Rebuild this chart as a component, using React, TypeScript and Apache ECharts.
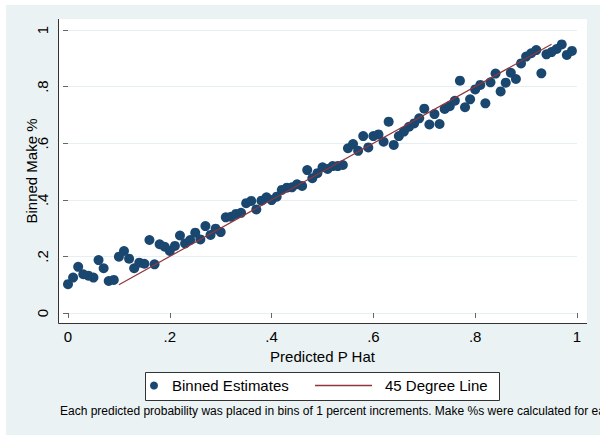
import React, { useEffect, useRef } from 'react';
import * as echarts from 'echarts';

const predictedPHat = [
  0.0, 0.01, 0.02, 0.03, 0.04, 0.05, 0.06, 0.07, 0.08, 0.09,
  0.1, 0.11, 0.12, 0.13, 0.14, 0.15, 0.16, 0.17, 0.18, 0.19,
  0.2, 0.21, 0.22, 0.23, 0.24, 0.25, 0.26, 0.27, 0.28, 0.29,
  0.3, 0.31, 0.32, 0.33, 0.34, 0.35, 0.36, 0.37, 0.38, 0.39,
  0.4, 0.41, 0.42, 0.43, 0.44, 0.45, 0.46, 0.47, 0.48, 0.49,
  0.5, 0.51, 0.52, 0.53, 0.54, 0.55, 0.56, 0.57, 0.58, 0.59,
  0.6, 0.61, 0.62, 0.63, 0.64, 0.65, 0.66, 0.67, 0.68, 0.69,
  0.7, 0.71, 0.72, 0.73, 0.74, 0.75, 0.76, 0.77, 0.78, 0.79,
  0.8, 0.81, 0.82, 0.83, 0.84, 0.85, 0.86, 0.87, 0.88, 0.89,
  0.9, 0.91, 0.92, 0.93, 0.94, 0.95, 0.96, 0.97, 0.98, 0.99,
];

const binnedMakePct = [
  0.102, 0.125, 0.163, 0.137, 0.132, 0.125, 0.187, 0.158, 0.113, 0.117,
  0.199, 0.219, 0.192, 0.158, 0.178, 0.174, 0.258, 0.172, 0.243, 0.234,
  0.219, 0.237, 0.274, 0.246, 0.258, 0.284, 0.26, 0.307, 0.276, 0.298,
  0.286, 0.338, 0.34, 0.35, 0.354, 0.388, 0.396, 0.366, 0.397, 0.409,
  0.399, 0.411, 0.435, 0.443, 0.444, 0.455, 0.449, 0.505, 0.476, 0.494,
  0.515, 0.509, 0.519, 0.519, 0.523, 0.582, 0.597, 0.573, 0.625, 0.585,
  0.625, 0.631, 0.605, 0.676, 0.594, 0.625, 0.641, 0.658, 0.67, 0.688,
  0.722, 0.666, 0.703, 0.668, 0.721, 0.731, 0.75, 0.821, 0.727, 0.755,
  0.79, 0.806, 0.741, 0.815, 0.846, 0.783, 0.814, 0.849, 0.827, 0.882,
  0.906, 0.918, 0.929, 0.847, 0.914, 0.922, 0.933, 0.949, 0.912, 0.926,
];

const degreeLineX = [0.1, 0.95];
const degreeLineY = [0.1, 0.95];

const tickValues = [0, 0.2, 0.4, 0.6, 0.8, 1];
const tickLabels = ['0', '.2', '.4', '.6', '.8', '1'];

const FONT = '"Liberation Sans", Arial, Helvetica, sans-serif';
const NAVY = '#1A476F';
const MAROON = '#90353B';

function fmt(v: number): string {
  const i = tickValues.findIndex((t) => Math.abs(t - v) < 1e-6);
  return i >= 0 ? tickLabels[i] : '';
}

export default function App() {
  const ref = useRef<HTMLDivElement>(null);

  useEffect(() => {
    document.body.style.margin = '0';
    const chart = echarts.init(ref.current!, null, { renderer: 'svg' });
    const scatterData = predictedPHat.map((x, i) => [x, binnedMakePct[i]]);
    const lineData = degreeLineX.map((x, i) => [x, degreeLineY[i]]);

    chart.setOption({
      animation: false,
      textStyle: { fontFamily: FONT },
      grid: { left: 68, top: 30, width: 509, height: 283 },
      xAxis: {
        type: 'value',
        min: 0,
        max: 1,
        interval: 0.2,
        offset: 10,
        axisLine: { show: false },
        axisTick: { show: true, length: 5, lineStyle: { color: '#666', width: 1 } },
        axisLabel: { formatter: fmt, fontSize: 15, color: '#000', margin: 6, fontFamily: FONT },
        splitLine: { show: false },
      },
      yAxis: {
        type: 'value',
        min: 0,
        max: 1,
        interval: 0.2,
        offset: 10,
        axisLine: { show: false },
        axisTick: { show: true, length: 5, lineStyle: { color: '#666', width: 1 } },
        axisLabel: { formatter: fmt, fontSize: 15, color: '#000', margin: 8, rotate: 90, fontFamily: FONT },
        splitLine: { show: true, lineStyle: { color: '#E6EFF1', width: 1 } },
      },
      legend: [
        {
          data: ['Binned Estimates'],
          left: 150,
          top: 378,
          padding: 0,
          icon: 'circle',
          itemWidth: 26,
          itemHeight: 8,
          textStyle: { fontSize: 15, color: '#000', fontFamily: FONT },
        },
        {
          data: [{ name: '45 Degree Line', icon: 'rect' }],
          left: 315,
          top: 378,
          padding: 0,
          itemWidth: 57,
          itemHeight: 1.3,
          itemStyle: { color: MAROON, borderWidth: 0 },
          textStyle: { fontSize: 15, color: '#000', fontFamily: FONT, padding: [0, 0, 0, 8] },
        },
      ],
      graphic: [
        {
          type: 'rect',
          silent: true,
          z: -20,
          shape: { x: 6, y: 5, width: 594, height: 430 },
          style: { fill: '#EAF2F3' },
        },
        {
          type: 'rect',
          silent: true,
          z: -10,
          shape: { x: 58, y: 19, width: 529, height: 304 },
          style: { fill: '#FFFFFF' },
        },
        {
          type: 'line',
          silent: true,
          z: 5,
          shape: { x1: 58.5, y1: 19, x2: 58.5, y2: 323.5 },
          style: { stroke: '#333', lineWidth: 1 },
        },
        {
          type: 'line',
          silent: true,
          z: 5,
          shape: { x1: 58.5, y1: 323.5, x2: 587, y2: 323.5 },
          style: { stroke: '#333', lineWidth: 1 },
        },
        {
          type: 'text',
          silent: true,
          x: 322.5,
          y: 356,
          style: {
            text: 'Predicted P Hat',
            fontSize: 15,
            fontFamily: FONT,
            fill: '#000',
            align: 'center',
            verticalAlign: 'middle',
          },
        },
        {
          type: 'text',
          silent: true,
          x: 31,
          y: 171,
          rotation: Math.PI / 2,
          style: {
            text: 'Binned Make %',
            fontSize: 15,
            fontFamily: FONT,
            fill: '#000',
            align: 'center',
            verticalAlign: 'middle',
          },
        },
        {
          type: 'rect',
          silent: true,
          z: 3,
          shape: { x: 145.5, y: 372.5, width: 354, height: 28 },
          style: { fill: '#FFFFFF', stroke: '#333', lineWidth: 1 },
        },
        {
          type: 'text',
          silent: true,
          x: 60,
          y: 411,
          style: {
            text: 'Each predicted probability was placed in bins of 1 percent increments. Make %s were calculated for each bin.',
            fontSize: 12,
            fontFamily: FONT,
            fill: '#000',
            align: 'left',
            verticalAlign: 'middle',
          },
        },
      ],
      series: [
        {
          name: 'Binned Estimates',
          type: 'scatter',
          data: scatterData,
          symbol: 'circle',
          symbolSize: 10,
          itemStyle: { color: NAVY, opacity: 1 },
          z: 2,
        },
        {
          name: '45 Degree Line',
          type: 'line',
          data: lineData,
          symbol: 'none',
          lineStyle: { color: MAROON, width: 1.2 },
          itemStyle: { color: MAROON },
          z: 3,
        },
      ],
    });
    return () => chart.dispose();
  }, []);

  return <div ref={ref} style={{ width: 600, height: 435, background: '#FFFFFF' }} />;
}
